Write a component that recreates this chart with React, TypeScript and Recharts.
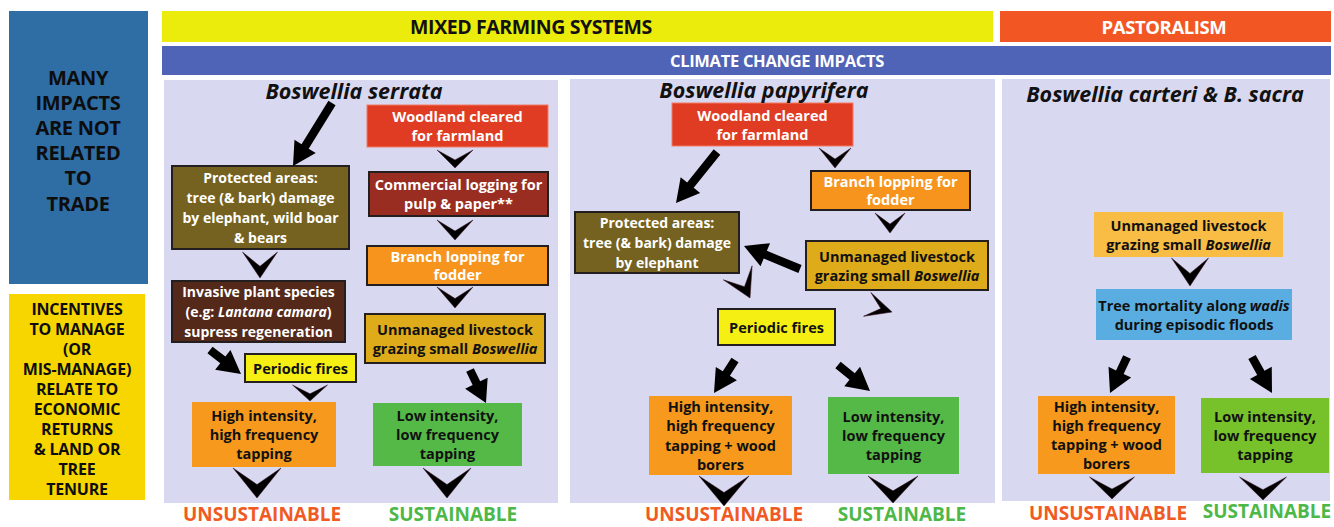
import React from "react";
import { ScatterChart, Scatter, XAxis, YAxis } from "recharts";

const W = 1334;
const H = 527;
const FONT = "'Open Sans', Lato, sans-serif";

// ---- data ----
const panels = [
  { id: "p1", x: 164, y: 80, w: 394, h: 423 },
  { id: "p2", x: 570, y: 79, w: 425, h: 424 },
  { id: "p3", x: 1002, y: 79, w: 328, h: 422 },
];

const boxes = [
  { id: "side1", kind: "sideBlue", x: 9, y: 11, w: 139, h: 273, tx: 78, ty: 140, lines: ["MANY", "IMPACTS", "ARE NOT", "RELATED", "TO", "TRADE"] },
  { id: "side2", kind: "sideYellow", x: 9, y: 294, w: 136, h: 206, tx: 77, ty: 399, lines: ["INCENTIVES", "TO MANAGE", "(OR", "MIS-MANAGE)", "RELATE TO", "ECONOMIC", "RETURNS", "& LAND OR", "TREE", "TENURE"] },
  { id: "b1", kind: "bannerYellow", x: 162, y: 11, w: 831, h: 31, tx: 531, ty: 26, lines: ["MIXED FARMING SYSTEMS"] },
  { id: "b2", kind: "bannerOrange", x: 1000, y: 11, w: 331, h: 31, tx: 1164, ty: 26, lines: ["PASTORALISM"] },
  { id: "b3", kind: "bannerBlue", x: 162, y: 46, w: 1169, h: 29, tx: 777, ty: 60, lines: ["CLIMATE CHANGE IMPACTS"] },
  // panel 1 : Boswellia serrata
  { id: "s1", kind: "clearing", x: 367, y: 105, w: 181, h: 42, lines: ["Woodland cleared", "for farmland"] },
  { id: "s2", kind: "logging", x: 369, y: 172, w: 179, h: 44, lines: ["Commercial logging for", "pulp & paper**"] },
  { id: "s3", kind: "lopping", x: 367, y: 246, w: 181, h: 39, lines: ["Branch lopping for", "fodder"] },
  { id: "s4", kind: "livestock", x: 365, y: 314, w: 180, h: 49, lines: ["Unmanaged livestock", "grazing small _Boswellia_"] },
  { id: "s5", kind: "lowTap", x: 373, y: 403, w: 149, h: 63, lines: ["Low intensity,", "low frequency", "tapping"] },
  { id: "s6", kind: "protectedArea", x: 172, y: 166, w: 177, h: 83, lines: ["Protected areas:", "tree (& bark) damage", "by elephant, wild boar", "& bears"] },
  { id: "s7", kind: "invasive", x: 172, y: 281, w: 173, h: 61, lines: ["Invasive plant species", "(e.g: _Lantana camara_)", "supress regeneration"] },
  { id: "s8", kind: "fires", x: 245, y: 354, w: 111, h: 28, lines: ["Periodic fires"] },
  { id: "s9", kind: "highTap", x: 192, y: 402, w: 144, h: 65, lines: ["High intensity,", "high frequency", "tapping"] },
  // panel 2 : Boswellia papyrifera
  { id: "q1", kind: "clearing", x: 672, y: 103, w: 181, h: 43, lines: ["Woodland cleared", "for farmland"] },
  { id: "q2", kind: "lopping", x: 811, y: 171, w: 159, h: 39, lines: ["Branch lopping for", "fodder"] },
  { id: "q3", kind: "protectedArea", x: 575, y: 212, w: 164, h: 61, lines: ["Protected areas:", "tree (& bark) damage", "by elephant"] },
  { id: "q4", kind: "livestock", x: 806, y: 241, w: 182, h: 49, lines: ["Unmanaged livestock", "grazing small _Boswellia_"] },
  { id: "q5", kind: "fires", x: 718, y: 309, w: 117, h: 36, lines: ["Periodic fires"] },
  { id: "q6", kind: "highTap", x: 649, y: 396, w: 143, h: 79, lines: ["High intensity,", "high frequency", "tapping + wood", "borers"] },
  { id: "q7", kind: "lowTap", x: 828, y: 397, w: 131, h: 77, lines: ["Low intensity,", "low frequency", "tapping"] },
  // panel 3 : Boswellia carteri & B. sacra
  { id: "r1", kind: "livestockPale", x: 1094, y: 212, w: 189, h: 45, lines: ["Unmanaged livestock", "grazing small _Boswellia_"] },
  { id: "r2", kind: "floods", x: 1096, y: 289, w: 196, h: 51, lines: ["Tree mortality along _wadis_", "during episodic floods"] },
  { id: "r3", kind: "highTap", x: 1038, y: 396, w: 137, h: 78, lines: ["High intensity,", "high frequency", "tapping + wood", "borers"] },
  { id: "r4", kind: "lowTapLime", x: 1201, y: 398, w: 128, h: 75, lines: ["Low intensity,", "low frequency", "tapping"] },
];

// thick straight arrows: tail (x, y) -> head (x2, y2)
const arrows = [
  { id: "a1", x: 332, y: 103, x2: 293, y2: 166 },
  { id: "a2", x: 210, y: 350, x2: 241, y2: 374 },
  { id: "a3", x: 470, y: 370, x2: 486, y2: 403 },
  { id: "a4", x: 717, y: 152, x2: 676, y2: 203 },
  { id: "a5", x: 800, y: 269, x2: 744, y2: 246 },
  { id: "a6", x: 735, y: 360, x2: 714, y2: 393 },
  { id: "a7", x: 838, y: 365, x2: 870, y2: 391 },
  { id: "a8", x: 1127, y: 357, x2: 1110, y2: 393 },
  { id: "a9", x: 1252, y: 357, x2: 1272, y2: 393 },
];

// chevron heads: tip (x, y), pointing direction in degrees (90 = down), length, width
const chevrons = [
  { id: "c1", x: 455, y: 168, dir: 90, len: 18, span: 36 },
  { id: "c2", x: 455, y: 240, dir: 90, len: 20, span: 36 },
  { id: "c3", x: 455, y: 308, dir: 90, len: 21, span: 36 },
  { id: "c4", x: 260, y: 278, dir: 90, len: 26, span: 35 },
  { id: "c5", x: 310, y: 401, dir: 90, len: 16, span: 35 },
  { id: "c6", x: 257, y: 498, dir: 90, len: 30, span: 48 },
  { id: "c7", x: 447, y: 498, dir: 90, len: 30, span: 48 },
  { id: "c8", x: 835, y: 168, dir: 90, len: 20, span: 32 },
  { id: "c9", x: 890, y: 233, dir: 90, len: 20, span: 30 },
  { id: "c10", x: 750, y: 298, dir: 64, len: 28, span: 32 },
  { id: "c11", x: 892, y: 312, dir: 17, len: 26, span: 25 },
  { id: "c12", x: 724, y: 506, dir: 90, len: 30, span: 50 },
  { id: "c13", x: 893, y: 503, dir: 90, len: 27, span: 50 },
  { id: "c14", x: 1190, y: 286, dir: 90, len: 28, span: 37 },
  { id: "c15", x: 1112, y: 499, dir: 90, len: 22, span: 45 },
  { id: "c16", x: 1263, y: 500, dir: 90, len: 23, span: 47 },
];

const titles = [
  { id: "t1", x: 354, y: 90, text: "Boswellia serrata" },
  { id: "t2", x: 764, y: 89, text: "Boswellia papyrifera" },
  { id: "t3", x: 1165, y: 93, text: "Boswellia carteri & B. sacra" },
];

// outcome labels: centre x, baseline y
const outcomes = [
  { id: "o1", x: 262, y: 521, text: "UNSUSTAINABLE", kind: "bad" },
  { id: "o2", x: 453, y: 521, text: "SUSTAINABLE", kind: "good" },
  { id: "o3", x: 724, y: 521, text: "UNSUSTAINABLE", kind: "bad" },
  { id: "o4", x: 902, y: 521, text: "SUSTAINABLE", kind: "good" },
  { id: "o5", x: 1108, y: 520, text: "UNSUSTAINABLE", kind: "bad" },
  { id: "o6", x: 1267, y: 518, text: "SUSTAINABLE", kind: "good" },
];

// ---- styles ----
type Style = { fill: string; stroke?: string; sw?: number; color: string; size: number; lh: number; spacing?: number };
const STYLES: Record<string, Style> = {
  sideBlue: { fill: "#2f6ea5", color: "#0d0d0d", size: 20, lh: 25.2, spacing: -0.3 },
  sideYellow: { fill: "#f7d600", color: "#0d0d0d", size: 16, lh: 20, spacing: -0.2 },
  bannerYellow: { fill: "#ebeb0c", color: "#111", size: 19.5, lh: 20, spacing: -0.4 },
  bannerOrange: { fill: "#f15623", color: "#ffffff", size: 18.5, lh: 20, spacing: -0.4 },
  bannerBlue: { fill: "#4f63b7", color: "#ffffff", size: 16.5, lh: 20, spacing: -0.3 },
  clearing: { fill: "#e03c24", stroke: "#f27a62", sw: 1, color: "#ffffff", size: 14.5, lh: 19 },
  logging: { fill: "#992d22", stroke: "#231f20", sw: 2, color: "#ffffff", size: 14.5, lh: 19 },
  lopping: { fill: "#f6941e", stroke: "#231f20", sw: 2, color: "#ffffff", size: 14.5, lh: 18 },
  livestock: { fill: "#deab1a", stroke: "#231f20", sw: 2, color: "#111", size: 14.5, lh: 19 },
  livestockPale: { fill: "#f9bd45", color: "#111", size: 14.5, lh: 19 },
  protectedArea: { fill: "#756220", stroke: "#231f20", sw: 2, color: "#ffffff", size: 14, lh: 19.8 },
  invasive: { fill: "#55291a", stroke: "#231f20", sw: 2, color: "#ffffff", size: 14, lh: 20 },
  fires: { fill: "#f5ef14", stroke: "#231f20", sw: 2, color: "#111", size: 14.5, lh: 19 },
  highTap: { fill: "#f6991c", color: "#111", size: 14.5, lh: 19.3 },
  lowTap: { fill: "#55b947", color: "#111", size: 14.5, lh: 19.3 },
  lowTapLime: { fill: "#77c22a", color: "#111", size: 14.5, lh: 19.3 },
  floods: { fill: "#5aade0", color: "#111", size: 14.5, lh: 19 },
};
const PANEL_FILL = "#d8d9f0";
const OUTCOME_COLORS: Record<string, string> = { bad: "#f15a22", good: "#4db848" };

const kx = W / W; // pixels per domain unit (x)
const ky = H / H; // pixels per domain unit (y)

function richLine(s: string) {
  return s.split("_").map((p, i) => (
    <tspan key={i} fontStyle={i % 2 ? "italic" : "normal"}>{p}</tspan>
  ));
}

const PanelShape = (props: any) => {
  const { cx, cy, payload } = props;
  return <rect x={cx} y={cy} width={payload.w * kx} height={payload.h * ky} fill={PANEL_FILL} />;
};

const BoxShape = (props: any) => {
  const { cx, cy, payload } = props;
  const st = STYLES[payload.kind];
  const w = payload.w * kx;
  const h = payload.h * ky;
  const centerX = payload.tx != null ? cx + (payload.tx - payload.x) * kx : cx + w / 2;
  const centerY = payload.ty != null ? cy + (payload.ty - payload.y) * ky : cy + h / 2;
  const n = payload.lines.length;
  const first = centerY - ((n - 1) * st.lh) / 2;
  return (
    <g>
      <rect x={cx} y={cy} width={w} height={h} fill={st.fill} stroke={st.stroke || "none"} strokeWidth={st.sw || 0} />
      <text
        fill={st.color}
        fontFamily={FONT}
        fontSize={st.size}
        fontWeight={700}
        textAnchor="middle"
        letterSpacing={st.spacing || 0}
      >
        {payload.lines.map((ln: string, i: number) => (
          <tspan key={i} x={centerX} y={first + i * st.lh} dominantBaseline="central">
            {richLine(ln)}
          </tspan>
        ))}
      </text>
    </g>
  );
};

const ArrowShape = (props: any) => {
  const { cx, cy, payload } = props;
  const hx = cx + (payload.x2 - payload.x) * kx;
  const hy = cy + (payload.y2 - payload.y) * ky;
  const dx = hx - cx;
  const dy = hy - cy;
  const L = Math.sqrt(dx * dx + dy * dy);
  const ux = dx / L;
  const uy = dy / L;
  const px = -uy;
  const py = ux;
  const headLen = Math.min(23, L * 0.6);
  const headHalf = 12.5;
  const shaftHalf = 4.2;
  const bx = hx - ux * headLen;
  const by = hy - uy * headLen;
  const pts = [
    [cx + px * shaftHalf, cy + py * shaftHalf],
    [bx + px * shaftHalf, by + py * shaftHalf],
    [bx + px * headHalf, by + py * headHalf],
    [hx, hy],
    [bx - px * headHalf, by - py * headHalf],
    [bx - px * shaftHalf, by - py * shaftHalf],
    [cx - px * shaftHalf, cy - py * shaftHalf],
  ];
  return <polygon points={pts.map((p) => p.join(",")).join(" ")} fill="#000" />;
};

const ChevronShape = (props: any) => {
  const { cx, cy, payload } = props;
  const { len, span, dir } = payload;
  const pts = [
    [-span / 2, -len],
    [0, -len * 0.45],
    [span / 2, -len],
    [0, 0],
  ];
  return (
    <polygon
      transform={`translate(${cx},${cy}) rotate(${dir - 90})`}
      points={pts.map((p) => p.join(",")).join(" ")}
      fill="#000"
      stroke="#3a1020"
      strokeWidth={0.5}
    />
  );
};

const TitleShape = (props: any) => {
  const { cx, cy, payload } = props;
  return (
    <text x={cx} y={cy} textAnchor="middle" dominantBaseline="central" fontFamily={FONT} fontSize={21.5} fontWeight={700} fontStyle="italic" fill="#111">
      {payload.text}
    </text>
  );
};

const OutcomeShape = (props: any) => {
  const { cx, cy, payload } = props;
  return (
    <text x={cx} y={cy} textAnchor="middle" fontFamily={FONT} fontSize={19} fontWeight={700} fill={OUTCOME_COLORS[payload.kind]}>
      {payload.text}
    </text>
  );
};

export default function App() {
  return (
    <div style={{ position: "absolute", left: 0, top: 0, width: W, height: H, background: "#fff" }}>
      <ScatterChart width={W} height={H} margin={{ top: 0, right: 0, bottom: 0, left: 0 }}>
        <XAxis type="number" dataKey="x" domain={[0, W]} hide />
        <YAxis type="number" dataKey="y" domain={[0, H]} reversed hide width={0} />
        <Scatter data={panels} shape={PanelShape} isAnimationActive={false} />
        <Scatter data={boxes} shape={BoxShape} isAnimationActive={false} />
        <Scatter data={arrows} shape={ArrowShape} isAnimationActive={false} />
        <Scatter data={chevrons} shape={ChevronShape} isAnimationActive={false} />
        <Scatter data={titles} shape={TitleShape} isAnimationActive={false} />
        <Scatter data={outcomes} shape={OutcomeShape} isAnimationActive={false} />
      </ScatterChart>
    </div>
  );
}
